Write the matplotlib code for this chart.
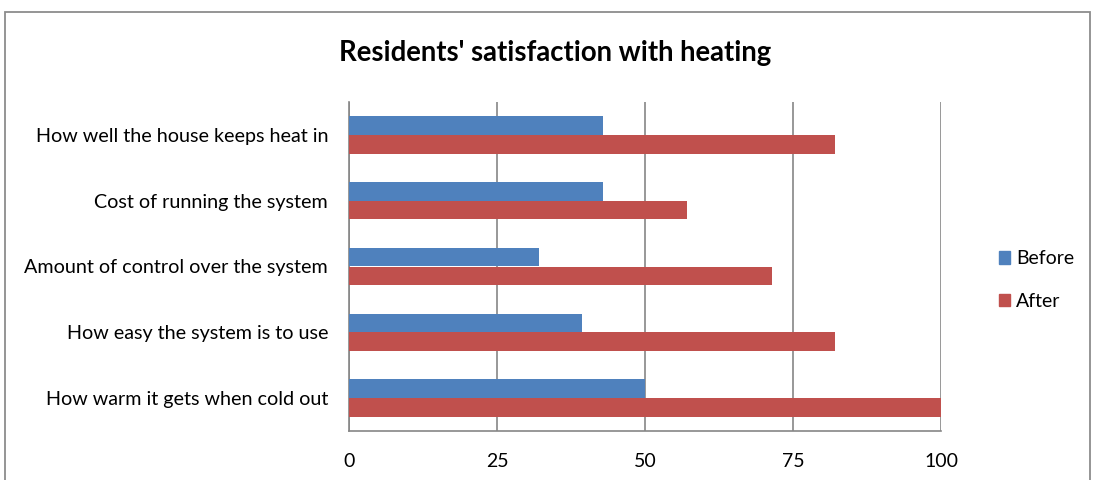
import matplotlib
matplotlib.use("Agg")
import matplotlib.pyplot as plt
from matplotlib.patches import Rectangle, Patch
import numpy as np

categories = ["How well the house keeps heat in",
              "Cost of running the system",
              "Amount of control over the system",
              "How easy the system is to use",
              "How warm it gets when cold out"]
before = [42.9, 42.9, 32.1, 39.3, 50.0]
after = [82.1, 57.1, 71.4, 82.1, 100.0]
series_names = ["Before", "After"]
xticks = [0, 25, 50, 75, 100]
title = "Residents' satisfaction with heating"

BLUE = "#4F81BD"
RED = "#C0504D"
GRID = "#868686"

plt.rcParams['font.family'] = ['Lato', 'DejaVu Sans']

W, H = 1093, 480
fig = plt.figure(figsize=(W / 100, H / 100), dpi=100)
fig.patch.set_facecolor("white")

# outer chart border
fig.patches.append(Rectangle((5 / W, -0.1), 1085 / W, (480 - 12) / H + 0.1,
                             transform=fig.transFigure, fill=False,
                             edgecolor="#8C8C8C", linewidth=1.3))

ax = fig.add_axes([349 / W, 49 / H, 592 / W, 329 / H])
y = np.arange(len(categories))
h = 0.284
ax.barh(y - h / 2, before, height=h, color=BLUE, label=series_names[0], zorder=3)
ax.barh(y + h / 2, after, height=h, color=RED, label=series_names[1], zorder=3)

ax.set_xlim(0, 100)
ax.set_ylim(len(categories) - 0.5, -0.5)
ax.set_xticks(xticks)
ax.set_xticklabels([str(t) for t in xticks], fontsize=14)
ax.set_yticks(y)
ax.set_yticklabels(categories, fontsize=14.2)
ax.tick_params(axis="both", length=0, colors="black")
ax.tick_params(axis="x", pad=15.5)
ax.tick_params(axis="y", pad=15)
ax.xaxis.grid(True, color=GRID, linewidth=1.2, zorder=0)
ax.set_axisbelow(True)
for s in ["top", "right"]:
    ax.spines[s].set_visible(False)
for s in ["left", "bottom"]:
    ax.spines[s].set_color(GRID)
    ax.spines[s].set_linewidth(1.2)

fig.text(555 / W, 1 - 53 / H, title, ha="center", va="center",
         fontsize=19.8, fontweight="bold")

handles = [Patch(color=BLUE), Patch(color=RED)]
fig.legend(handles, series_names, loc="center left",
           bbox_to_anchor=(989 / W, 1 - 280 / H), frameon=False,
           fontsize=14, handlelength=0.6, handleheight=0.6,
           handletextpad=0.3, labelspacing=1.3, borderpad=0)

fig.savefig("out.png", dpi=100)
